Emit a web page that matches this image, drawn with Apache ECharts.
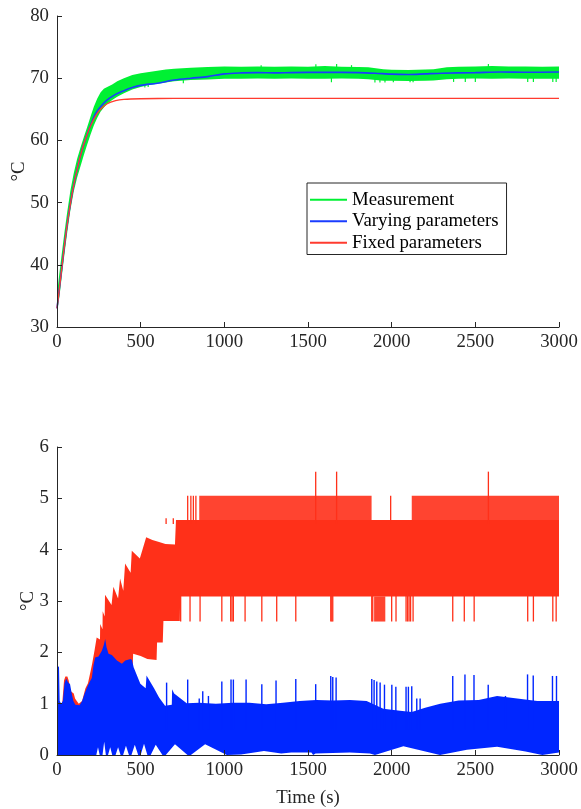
<!DOCTYPE html>
<html><head><meta charset="utf-8">
<script src="https://cdn.jsdelivr.net/npm/echarts@6/dist/echarts.min.js"></script>
<style>html,body{margin:0;padding:0;background:#fff}#c{width:581px;height:809px}</style>
</head><body><div id="c"></div><script>
// ---------- axes / ticks ----------
const xTicks = [0, 500, 1000, 1500, 2000, 2500, 3000];
const topYTicks = [30, 40, 50, 60, 70, 80];
const botYTicks = [0, 1, 2, 3, 4, 5, 6];
const legendNames = ['Measurement', 'Varying parameters', 'Fixed parameters'];

// ---------- top panel: temperature ----------
const fixedT = [0, 10, 20, 30, 45, 60, 80, 100, 125, 150, 175, 200, 230, 260, 300, 350, 400, 500, 700, 3000];
const fixedV = [33, 35.2, 37.5, 39.8, 43.2, 46.3, 49.8, 52.8, 55.9, 58.5, 60.6, 62.3, 63.9, 65.0, 65.9, 66.4, 66.6, 66.7, 66.75, 66.75];

const varT = [0, 10, 20, 30, 45, 60, 80, 100, 125, 150, 175, 200, 230, 260, 300, 350, 400, 450, 500, 600, 700, 800, 900, 1000, 1100, 1200, 1300, 1400, 1600, 1800, 1900, 2000, 2100, 2200, 2300, 2500, 2650, 2800, 3000];
const varV = [33, 35.2, 37.5, 39.8, 43.2, 46.3, 49.8, 52.8, 55.9, 58.5, 60.6, 62.4, 64.3, 65.4, 66.5, 67.4, 68.0, 68.5, 68.85, 69.2, 69.7, 70.0, 70.25, 70.7, 70.85, 70.9, 70.85, 70.9, 70.95, 70.9, 70.8, 70.65, 70.6, 70.7, 70.8, 70.9, 71.0, 70.95, 71.0];

const measT  = [0, 5, 15, 25, 35, 45, 60, 80, 100, 120, 140, 160, 180, 200, 220, 240, 260, 280, 300, 330, 360, 400, 450, 500, 550, 600, 650, 700, 800, 900, 1000, 1100, 1200, 1300, 1400, 1500, 1600, 1700, 1800, 1860, 1950, 2000, 2100, 2200, 2250, 2330, 2400, 2500, 2600, 2700, 2800, 2900, 3000];
const measLo = [33.0, 33.2, 35.0, 37.3, 39.6, 41.8, 45.0, 48.8, 51.8, 54.0, 55.8, 57.6, 59.3, 60.9, 62.4, 63.6, 64.6, 65.3, 65.9, 66.5, 67.0, 67.6, 68.2, 68.6, 68.9, 69.1, 69.3, 69.5, 69.7, 69.8, 69.9, 69.9, 69.95, 69.9, 69.95, 69.9, 69.9, 69.95, 69.9, 69.85, 69.6, 69.6, 69.55, 69.6, 69.65, 69.85, 69.9, 69.95, 69.9, 69.95, 69.9, 69.9, 69.9];
const measHi = [34.8, 36.5, 38.8, 41.0, 43.2, 45.3, 48.3, 51.9, 54.7, 57.0, 58.8, 60.5, 62.1, 63.8, 65.4, 66.7, 67.7, 68.3, 68.6, 69.0, 69.5, 70.0, 70.5, 70.8, 71.0, 71.2, 71.4, 71.5, 71.7, 71.8, 71.9, 71.85, 71.9, 71.85, 71.9, 71.85, 71.95, 71.85, 71.8, 71.75, 71.45, 71.35, 71.3, 71.4, 71.45, 71.75, 71.85, 71.9, 71.95, 71.9, 71.9, 71.85, 71.9];
const measSpikeBase = 70.8;
const measSpikeT   = [525, 545, 755, 1220, 1547, 1640, 1671, 1760, 1900, 1930, 1960, 2010, 2110, 2128, 2370, 2440, 2500, 2578, 2813, 2847, 2963, 2983];
const measSpikeTip = [68.5, 68.6, 69.2, 72.1, 72.25, 69.35, 72.3, 72.1, 69.3, 69.3, 69.3, 69.35, 69.35, 69.35, 69.4, 69.4, 69.4, 72.3, 69.4, 69.4, 69.4, 69.4];

// ---------- bottom panel: absolute error ----------
const redHiT = [0, 30, 42, 50, 62, 70, 76, 80, 90, 100, 108, 118, 130, 150, 170, 185, 200, 210, 225, 237, 257, 258, 272, 273, 285, 287, 326, 337, 365, 377, 396, 407, 440, 447, 495, 533, 570, 610, 648, 705, 711, 3000];
const redHi  = [1.0, 0.95, 1.45, 1.53, 1.53, 1.45, 1.35, 1.25, 1.22, 1.2, 1.1, 1.05, 1.0, 1.05, 1.3, 1.4, 1.62, 1.78, 2.05, 2.29, 2.25, 2.55, 2.45, 2.8, 2.7, 3.12, 2.92, 3.28, 3.05, 3.44, 3.2, 3.73, 3.55, 3.98, 3.83, 4.24, 4.19, 4.15, 4.11, 4.1, 4.58, 4.58];
const redLoT = [0, 440, 455, 500, 540, 595, 598, 632, 636, 734, 736, 3000];
const redLo  = [0.5, 0.5, 1.97, 1.93, 1.87, 1.85, 2.19, 2.19, 2.61, 2.61, 3.09, 3.09];
const redFringeStart = [850, 2120];
const redFringeEnd   = [1880, 3000];
const redFringeLo = 4.58, redFringeHi = 5.05;
const redDenseStart = [1895], redDenseEnd = [1962];
const redDenseLo = 2.6, redDenseHi = 3.09;
const redUpBase = 4.5;
const redUpT   = [652, 695, 781, 800, 815, 830, 1546, 1671, 1994, 2578];
const redUpTip = [4.61, 4.61, 5.05, 5.05, 5.05, 5.05, 5.52, 5.52, 5.05, 5.52];
const redDownBase = 3.2, redDownTip = 2.6;
const redDownT = [739, 795, 855, 985, 1038, 1046, 1054, 1124, 1224, 1313, 1427, 1636, 1642, 1648, 1881, 1887, 2000, 2026, 2086, 2095, 2104, 2113, 2128, 2365, 2434, 2493, 2813, 2847, 2963, 2983];

const blueHiT = [0, 12, 16, 25, 35, 45, 55, 65, 78, 88, 98, 110, 135, 150, 165, 180, 195, 208, 218, 228, 248, 268, 280, 288, 296, 308, 328, 358, 388, 408, 440, 448, 458, 478, 498, 530, 535, 556, 580, 610, 646, 686, 688, 700, 775, 850, 950, 1050, 1150, 1250, 1350, 1450, 1550, 1650, 1750, 1850, 1950, 2050, 2120, 2200, 2290, 2400, 2520, 2630, 2750, 2870, 3000];
const blueHi  = [1.73, 1.72, 1.05, 1.0, 1.05, 1.4, 1.49, 1.42, 1.38, 1.2, 1.05, 0.98, 0.97, 1.05, 1.2, 1.32, 1.42, 1.5, 1.75, 1.9, 1.92, 2.03, 2.15, 2.26, 2.1, 1.97, 1.95, 1.84, 1.78, 1.84, 1.87, 1.85, 1.71, 1.55, 1.39, 1.3, 1.55, 1.43, 1.3, 1.12, 0.96, 0.98, 1.28, 1.2, 1.01, 1.02, 1.0, 1.02, 1.02, 0.99, 1.02, 1.05, 1.07, 1.06, 1.07, 1.05, 0.9, 0.86, 0.84, 0.92, 1.0, 1.06, 1.07, 1.15, 1.1, 1.05, 1.05];
const blueLoT = [0, 235, 245, 255, 272, 282, 292, 305, 318, 330, 350, 365, 380, 395, 412, 430, 445, 465, 485, 500, 520, 540, 560, 590, 630, 650, 705, 780, 800, 885, 1015, 1100, 1237, 1340, 1400, 1520, 1531, 1545, 1750, 1870, 1900, 2070, 2289, 2450, 2630, 2800, 2900, 3000];
const blueLo  = [0, 0, 0.15, 0, 0, 0.26, 0, 0, 0.15, 0, 0, 0.15, 0, 0, 0.18, 0, 0, 0.2, 0, 0, 0.22, 0, 0, 0.2, 0, 0, 0.21, 0, 0, 0.21, 0, 0.01, 0.08, 0.03, 0.05, 0.05, 0, 0.03, 0.05, 0.03, 0, 0.17, 0, 0.1, 0.16, 0.07, 0, 0.05];
const blueSpikeBase = 0.5;
const blueSpikeT   = [655, 781, 850, 871, 905, 985, 1040, 1054, 1130, 1224, 1309, 1427, 1546, 1636, 1648, 1668, 1881, 1895, 1911, 1931, 1957, 2001, 2025, 2086, 2100, 2120, 2150, 2170, 2365, 2438, 2492, 2577, 2680, 2812, 2846, 2961, 2985];
const blueSpikeTip = [1.41, 1.47, 1.1, 1.24, 1.15, 1.43, 1.47, 1.47, 1.47, 1.38, 1.45, 1.48, 1.38, 1.54, 1.52, 1.51, 1.48, 1.46, 1.43, 1.41, 1.37, 1.37, 1.33, 1.33, 1.33, 1.34, 1.1, 1.1, 1.54, 1.57, 1.56, 1.37, 1.15, 1.57, 1.55, 1.54, 1.54];

// ---------- colours ----------
const C_GREEN = '#00f033', C_VAR = '#1a3cff', C_FIX = '#ff3b2f';
const C_RED = '#ff3019', C_BLUE = '#0026ff';
const FONT = '"Liberation Serif", "Times New Roman", serif', AX = '#262626';
const FS = 18.8;

// ---------- helpers ----------
function ring(tHi, hi, tLo, lo) {
  const d = tHi.map((t, i) => [t, hi[i]]);
  for (let i = tLo.length - 1; i >= 0; i--) d.push([tLo[i], lo[i]]);
  return d;
}
function boxRing(t0, t1, lo, hi) { return [[t0, hi], [t1, hi], [t1, lo], [t0, lo]]; }
function bandSeries(name, gi, data, color, opacity) {
  return {
    type: 'custom', name, xAxisIndex: gi, yAxisIndex: gi, data, encode: { x: 0, y: 1 },
    itemStyle: { color }, silent: true, animation: false,
    renderItem(params, api) {
      if (params.dataIndex !== 0) return null;
      const pts = data.map(p => api.coord(p));
      return { type: 'polygon', shape: { points: pts }, style: { fill: color, opacity: opacity == null ? 1 : opacity } };
    }
  };
}
function spikeSeries(name, gi, T, base, tip, color, w) {
  const data = T.map((t, i) => [t, base, Array.isArray(tip) ? tip[i] : tip]);
  return {
    type: 'custom', name, xAxisIndex: gi, yAxisIndex: gi, data, encode: { x: 0, y: [1, 2] },
    silent: true, animation: false,
    renderItem(params, api) {
      const a = api.coord([api.value(0), api.value(1)]);
      const b = api.coord([api.value(0), api.value(2)]);
      return { type: 'line', shape: { x1: a[0], y1: a[1], x2: b[0], y2: b[1] }, style: { stroke: color, lineWidth: w } };
    }
  };
}
const labelStyle = { color: AX, fontFamily: FONT, fontSize: FS, formatter: v => String(v) };
function xAxis(gi, withName) {
  const a = {
    type: 'value', gridIndex: gi, min: xTicks[0], max: xTicks[xTicks.length - 1], interval: xTicks[1] - xTicks[0], z: 10,
    axisLine: { show: true, onZero: false, lineStyle: { color: AX, width: 1 } },
    axisTick: { show: true, inside: true, length: 5, lineStyle: { color: AX, width: 1 } },
    axisLabel: Object.assign({ margin: 6 }, labelStyle),
    splitLine: { show: false }
  };
  if (withName) {
    a.name = 'Time (s)'; a.nameLocation = 'middle'; a.nameGap = 34; a.nameMoveOverlap = false;
    a.nameTextStyle = { color: AX, fontFamily: FONT, fontSize: FS };
  }
  return a;
}
function yAxis(gi, ticks, gap) {
  return {
    type: 'value', gridIndex: gi, min: ticks[0], max: ticks[ticks.length - 1], interval: ticks[1] - ticks[0], z: 10,
    name: '°C', nameLocation: 'middle', nameGap: gap, nameMoveOverlap: false,
    nameTextStyle: { color: AX, fontFamily: FONT, fontSize: FS },
    axisLine: { show: true, onZero: false, lineStyle: { color: AX, width: 1 } },
    axisTick: { show: true, inside: true, length: 5, lineStyle: { color: AX, width: 1 } },
    axisLabel: Object.assign({ margin: 8 }, labelStyle),
    splitLine: { show: false }
  };
}

const series = [
  bandSeries(legendNames[0], 0, ring(measT, measHi, measT, measLo), C_GREEN),
  spikeSeries('measSpikes', 0, measSpikeT, measSpikeBase, measSpikeTip, C_GREEN, 1.2),
  { type: 'line', name: legendNames[1], xAxisIndex: 0, yAxisIndex: 0, data: varT.map((t, i) => [t, varV[i]]),
    symbol: 'none', showSymbol: false, smooth: 0.3, lineStyle: { color: C_VAR, width: 1.6 }, itemStyle: { color: C_VAR }, animation: false },
  { type: 'line', name: legendNames[2], xAxisIndex: 0, yAxisIndex: 0, data: fixedT.map((t, i) => [t, fixedV[i]]),
    symbol: 'none', showSymbol: false, smooth: 0.3, lineStyle: { color: C_FIX, width: 1.3 }, itemStyle: { color: C_FIX }, animation: false },

  bandSeries('redCore', 1, ring(redHiT, redHi, redLoT, redLo), C_RED),
  ...redFringeStart.map((s, i) => bandSeries('redFringe' + i, 1, boxRing(s, redFringeEnd[i], redFringeLo, redFringeHi), C_RED, 0.9)),
  ...redDenseStart.map((s, i) => bandSeries('redDense' + i, 1, boxRing(s, redDenseEnd[i], redDenseLo, redDenseHi), C_RED, 0.9)),
  spikeSeries('redUp', 1, redUpT, redUpBase, redUpTip, C_RED, 1.3),
  spikeSeries('redDown', 1, redDownT, redDownBase, redDownTip, C_RED, 1.3),
  bandSeries('blueBand', 1, ring(blueHiT, blueHi, blueLoT, blueLo), C_BLUE),
  spikeSeries('blueSpikes', 1, blueSpikeT, blueSpikeBase, blueSpikeTip, C_BLUE, 1.4)
];

const chart = echarts.init(document.getElementById('c'), null, { renderer: 'canvas' });
chart.setOption({
  animation: false,
  backgroundColor: '#fff',
  textStyle: { fontFamily: FONT },
  grid: [
    { left: 57, top: 16, width: 502, height: 311 },
    { left: 57, top: 447, width: 502, height: 312 }
  ],
  xAxis: [xAxis(0, false), xAxis(1, true)],
  yAxis: [yAxis(0, topYTicks, 28), yAxis(1, botYTicks, 19)],
  legend: {
    orient: 'vertical', left: 307, top: 183, padding: [6, 8, 1, 3], itemGap: 0,
    itemWidth: 37, itemHeight: 2, icon: 'rect', selectedMode: false,
    borderColor: AX, borderWidth: 1, backgroundColor: '#fff',
    textStyle: { fontFamily: FONT, fontSize: FS, color: '#000', lineHeight: 21.5 },
    data: [
      { name: legendNames[0], itemStyle: { color: C_GREEN } },
      { name: legendNames[1], itemStyle: { color: C_VAR } },
      { name: legendNames[2], itemStyle: { color: C_FIX } }
    ]
  },
  series
});
</script></body></html>
